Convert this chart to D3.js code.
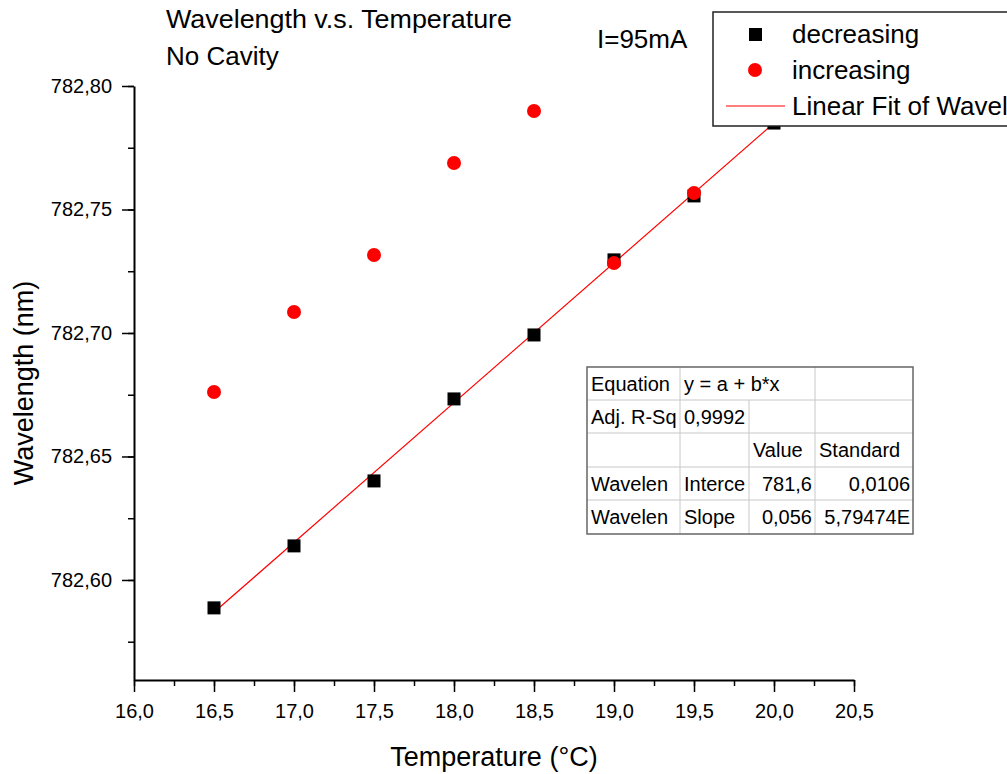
<!DOCTYPE html>
<html>
<head>
<meta charset="utf-8">
<script src="https://cdn.jsdelivr.net/npm/d3@7"></script>
<style>
  body { margin: 0; background: #fff; }
  svg { font-family: "Liberation Sans", Arial, sans-serif; }
</style>
</head>
<body>
<div id="chart"></div>
<script>
// temperature steps (°C)
const tempDecreasing = [16.5, 17.0, 17.5, 18.0, 18.5, 19.0, 19.5, 20.0];
const wlDecreasing = [782.5887, 782.6138, 782.6401, 782.6733, 782.6992, 782.7296, 782.7555, 782.7850];
const tempIncreasing = [16.5, 17.0, 17.5, 18.0, 18.5, 19.0, 19.5];
const wlIncreasing = [782.6761, 782.7085, 782.7316, 782.7688, 782.7899, 782.7283, 782.7567];

// linear fit of the decreasing run
const fitA = 781.653;
const fitB = 0.0566;
const fitRange = [16.5, 20.0];

const xTicks = [16.0, 16.5, 17.0, 17.5, 18.0, 18.5, 19.0, 19.5, 20.0, 20.5];
const yTicks = [782.60, 782.65, 782.70, 782.75, 782.80];

const tableRows = [
  ["Equation", "y = a + b*x", "", ""],
  ["Adj. R-Sq", "0,9992", "", ""],
  ["", "", "Value", "Standard"],
  ["Wavelen", "Interce", "781,6", "0,0106"],
  ["Wavelen", "Slope", "0,056", "5,79474E"]
];

const width = 1007, height = 774;
const plot = { left: 134, right: 854, top: 86, bottom: 680 };

const svg = d3.select("#chart")
  .append("svg")
  .attr("width", width)
  .attr("height", height);

const x = d3.scaleLinear().domain([16.0, 20.5]).range([plot.left, plot.right]);
const y = d3.scaleLinear().domain([782.5595, 782.80]).range([plot.bottom, plot.top]);

const fmt = d => d3.format(".1f")(d).replace(".", ",");
const fmtY = d => d3.format(".2f")(d).replace(".", ",");

// X axis (minor then major)
svg.append("g")
  .attr("transform", `translate(0, ${plot.bottom})`)
  .call(d3.axisBottom(x).tickValues(d3.range(16.0, 20.51, 0.25)).tickSize(6).tickFormat(""))
  .call(g => g.select(".domain").remove())
  .selectAll("line").attr("stroke", "#000").attr("stroke-width", 1.5);

const xAxis = svg.append("g")
  .attr("transform", `translate(0, ${plot.bottom})`)
  .call(d3.axisBottom(x).tickValues(xTicks).tickSize(12).tickSizeOuter(0).tickPadding(12).tickFormat(fmt));
xAxis.select(".domain").attr("stroke-width", 2);
xAxis.selectAll("line").attr("stroke-width", 1.5);
xAxis.selectAll("text")
  .attr("font-size", 20)
  .attr("font-family", "Liberation Sans, Arial, sans-serif")
  .attr("fill", "#000");

// Y axis (minor then major)
svg.append("g")
  .attr("transform", `translate(${plot.left}, 0)`)
  .call(d3.axisLeft(y).tickValues(d3.range(782.575, 782.801, 0.025)).tickSize(6).tickFormat(""))
  .call(g => g.select(".domain").remove())
  .selectAll("line").attr("stroke", "#000").attr("stroke-width", 1.5);

const yAxis = svg.append("g")
  .attr("transform", `translate(${plot.left}, 0)`)
  .call(d3.axisLeft(y).tickValues(yTicks).tickSize(12).tickSizeOuter(0).tickPadding(10).tickFormat(fmtY));
yAxis.select(".domain").attr("stroke-width", 2);
yAxis.selectAll("line").attr("stroke-width", 1.5);
yAxis.selectAll("text")
  .attr("font-size", 20)
  .attr("font-family", "Liberation Sans, Arial, sans-serif")
  .attr("fill", "#000");

// axis titles
svg.append("text")
  .attr("x", (plot.left + plot.right) / 2)
  .attr("y", 766)
  .attr("text-anchor", "middle")
  .style("font-size", "27px")
  .text("Temperature (°C)");

svg.append("text")
  .attr("transform", `translate(33, ${(plot.top + plot.bottom) / 2}) rotate(-90)`)
  .attr("text-anchor", "middle")
  .style("font-size", "27px")
  .text("Wavelength (nm)");

// fit line
svg.append("line")
  .attr("x1", x(fitRange[0]))
  .attr("y1", y(fitA + fitB * fitRange[0]))
  .attr("x2", x(fitRange[1]))
  .attr("y2", y(fitA + fitB * fitRange[1]))
  .attr("stroke", "#ff0000")
  .attr("stroke-width", 1.2);

// decreasing: black squares
const sq = 13;
svg.selectAll("rect.dec")
  .data(tempDecreasing)
  .join("rect")
  .attr("class", "dec")
  .attr("x", d => x(d) - sq / 2)
  .attr("y", (d, i) => y(wlDecreasing[i]) - sq / 2)
  .attr("width", sq)
  .attr("height", sq)
  .attr("fill", "#000");

// increasing: red circles
svg.selectAll("circle.inc")
  .data(tempIncreasing)
  .join("circle")
  .attr("class", "inc")
  .attr("cx", d => x(d))
  .attr("cy", (d, i) => y(wlIncreasing[i]))
  .attr("r", 7)
  .attr("fill", "#ff0000");

// titles
svg.append("text")
  .attr("x", 166).attr("y", 28)
  .attr("textLength", 346)
  .attr("lengthAdjust", "spacingAndGlyphs")
  .style("font-size", "26px")
  .text("Wavelength v.s. Temperature");
svg.append("text").attr("x", 166).attr("y", 65).style("font-size", "26px").text("No Cavity");
svg.append("text").attr("x", 597).attr("y", 48).style("font-size", "26px").text("I=95mA");

// legend
const legend = svg.append("g");
legend.append("rect")
  .attr("x", 713).attr("y", 12)
  .attr("width", 330).attr("height", 114)
  .attr("fill", "#fff")
  .attr("stroke", "#222")
  .attr("stroke-width", 1.5);
legend.append("rect").attr("x", 749).attr("y", 28).attr("width", 13).attr("height", 13).attr("fill", "#000");
legend.append("circle").attr("cx", 755).attr("cy", 70).attr("r", 7).attr("fill", "#ff0000");
legend.append("line").attr("x1", 726).attr("x2", 785).attr("y1", 106).attr("y2", 106)
  .attr("stroke", "#ff0000").attr("stroke-width", 1.2);
["decreasing", "increasing", "Linear Fit of Wavelength"].forEach((t, i) => {
  legend.append("text")
    .attr("x", 792)
    .attr("y", 43 + i * 36)
    .style("font-size", "26px")
    .text(t);
});

// fit table
const colX = [587, 680, 749, 815, 913];
const rowY = [367, 400, 433, 467, 500, 534];
const table = svg.append("g").style("font-size", "20px");
table.append("rect")
  .attr("x", colX[0]).attr("y", rowY[0])
  .attr("width", colX[4] - colX[0]).attr("height", rowY[5] - rowY[0])
  .attr("fill", "#fff");
for (let r = 1; r < 5; r++) {
  table.append("line").attr("x1", colX[0]).attr("x2", colX[4])
    .attr("y1", rowY[r]).attr("y2", rowY[r]).attr("stroke", "#c8c8c8");
}
for (let c = 1; c < 4; c++) {
  table.append("line").attr("x1", colX[c]).attr("x2", colX[c])
    .attr("y1", c === 2 ? rowY[1] : rowY[0]).attr("y2", rowY[5]).attr("stroke", "#c8c8c8");
}
table.append("rect")
  .attr("x", colX[0]).attr("y", rowY[0])
  .attr("width", colX[4] - colX[0]).attr("height", rowY[5] - rowY[0])
  .attr("fill", "none").attr("stroke", "#666").attr("stroke-width", 1.5);
tableRows.forEach((row, r) => {
  row.forEach((cell, c) => {
    if (!cell) return;
    const right = r >= 3 && c >= 2;
    table.append("text")
      .attr("x", right ? colX[c + 1] - 3 : colX[c] + 4)
      .attr("y", (rowY[r] + rowY[r + 1]) / 2 + 7)
      .attr("text-anchor", right ? "end" : "start")
      .text(cell);
  });
});
</script>
</body>
</html>
